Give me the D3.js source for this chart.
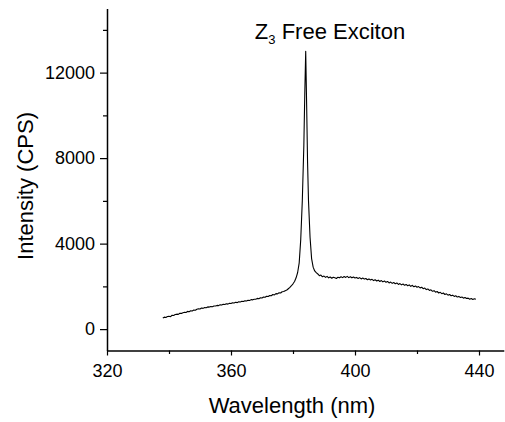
<!DOCTYPE html>
<!-- PL spectrum: intensity vs wavelength with the Z3 free exciton peak -->
<html>
<head>
<meta charset="utf-8">
<style>
  body { margin: 0; background: #fff; }
  text { font-family: "Liberation Sans", Arial, sans-serif; fill: #000; }
</style>
</head>
<body>
<div id="graph_div"></div>

<script src="https://d3js.org/d3.v7.min.js"></script>

<script>

// data (left wing, peak, right wing)
let wavelengths = [338, 338.5, 339, 339.5, 340, 340.5, 341, 341.5, 342, 342.5, 343, 343.5, 344, 344.5, 345, 345.5,
  346, 346.5, 347, 347.5, 348, 348.5, 349, 349.5, 350, 350.5, 351, 351.5, 352, 352.5, 353, 353.5,
  354, 354.5, 355, 355.5, 356, 356.5, 357, 357.5, 358, 358.5, 359, 359.5, 360, 360.5, 361, 361.5,
  362, 362.5, 363, 363.5, 364, 364.5, 365, 365.5, 366, 366.5, 367, 367.5, 368, 368.5, 369, 369.5,
  370, 370.5, 371, 371.5, 372, 372.5, 373, 373.5, 374, 374.5, 375, 375.5, 376, 376.5, 377, 377.5,
  378, 378.5, 379, 379.5, 380, 380.5, 381, 381.5, 382, 382.5, 383, 383.5, 383.8, 384.1, 384.4, 384.7,
  385, 385.5, 386, 386.5, 387, 387.5, 388, 388.5, 389, 389.5, 390, 390.5, 391, 391.5, 392, 392.5,
  393, 393.5, 394, 394.5, 395, 395.5, 396, 396.5, 397, 397.5, 398, 398.5, 399, 399.5, 400, 400.5,
  401, 401.5, 402, 402.5, 403, 403.5, 404, 404.5, 405, 405.5, 406, 406.5, 407, 407.5, 408, 408.5,
  409, 409.5, 410, 410.5, 411, 411.5, 412, 412.5, 413, 413.5, 414, 414.5, 415, 415.5, 416, 416.5,
  417, 417.5, 418, 418.5, 419, 419.5, 420, 420.5, 421, 421.5, 422, 422.5, 423, 423.5, 424, 424.5,
  425, 425.5, 426, 426.5, 427, 427.5, 428, 428.5, 429, 429.5, 430, 430.5, 431, 431.5, 432, 432.5,
  433, 433.5, 434, 434.5, 435, 435.5, 436, 436.5, 437, 437.5, 438, 438.5, 439];
let intensities = [520, 560, 545, 590, 600, 580, 650, 640, 680, 700, 690, 745, 735, 770, 790, 775,
  830, 815, 860, 850, 895, 880, 930, 950, 940, 985, 970, 1010, 1000, 1040, 1030, 1060,
  1045, 1085, 1080, 1110, 1100, 1140, 1125, 1160, 1150, 1185, 1170, 1210, 1195, 1230, 1225, 1255,
  1240, 1280, 1270, 1300, 1290, 1330, 1315, 1350, 1340, 1380, 1370, 1400, 1395, 1440, 1425, 1470,
  1455, 1500, 1490, 1540, 1525, 1575, 1560, 1620, 1600, 1660, 1650, 1700, 1690, 1750, 1760, 1800,
  1830, 1890, 1950, 2030, 2120, 2230, 2400, 2650, 3100, 4200, 6000, 8600, 11000, 13000, 10500, 7800,
  6000, 4300, 3300, 2900, 2720, 2640, 2580, 2500, 2530, 2450, 2480, 2420, 2470, 2400, 2440, 2380,
  2430, 2400, 2370, 2430, 2400, 2450, 2410, 2460, 2420, 2470, 2410, 2450, 2400, 2440, 2390, 2420,
  2370, 2410, 2350, 2390, 2340, 2370, 2310, 2350, 2300, 2330, 2270, 2310, 2250, 2290, 2230, 2270,
  2210, 2250, 2190, 2230, 2160, 2200, 2140, 2180, 2120, 2160, 2090, 2130, 2070, 2110, 2050, 2090,
  2030, 2070, 2000, 2050, 1980, 2020, 1960, 1990, 1930, 1960, 1890, 1920, 1850, 1880, 1810, 1840,
  1770, 1800, 1730, 1760, 1690, 1720, 1660, 1690, 1620, 1650, 1590, 1620, 1560, 1590, 1530, 1560,
  1500, 1530, 1480, 1500, 1450, 1480, 1430, 1450, 1400, 1430, 1390, 1420, 1400];

let x_major_ticks = [320, 360, 400, 440],
    x_minor_ticks = [340, 380, 420],
    y_major_ticks = [0, 4000, 8000, 12000],
    y_minor_ticks = [2000, 6000, 10000, 14000];

let x_title = "Wavelength (nm)",
    y_title = "Intensity (CPS)";

let container_width = 505,
    container_height = 422;

let spectrum = wavelengths.map(function(w, i){ return {wl: w, cps: intensities[i]}; });

let graph_obj = d3.select("#graph_div")
  .append("svg")
    .attr("width", container_width)
    .attr("height", container_height);

let x = d3.scaleLinear()
  .domain([320, 448])
  .range([107, 503.8]);

let y = d3.scaleLinear()
  .domain([-1000, 15000])
  .range([350.5, 8.5]);

// x axis
graph_obj.append("g")
  .attr("transform", "translate(0," + y(-1000) + ")")
  .call(d3.axisBottom(x).tickValues(x_major_ticks).tickSize(5).tickSizeOuter(0).tickPadding(9)
    .tickFormat(d3.format("d")));
graph_obj.append("g")
  .attr("transform", "translate(0," + y(-1000) + ")")
  .call(d3.axisBottom(x).tickValues(x_minor_ticks).tickSize(3.5).tickSizeOuter(0).tickFormat(""))
  .select(".domain").remove();

// y axis
graph_obj.append("g")
  .attr("transform", "translate(" + x(320) + ",0)")
  .call(d3.axisLeft(y).tickValues(y_major_ticks).tickSize(7).tickSizeOuter(0).tickPadding(5)
    .tickFormat(d3.format("d")));
graph_obj.append("g")
  .attr("transform", "translate(" + x(320) + ",0)")
  .call(d3.axisLeft(y).tickValues(y_minor_ticks).tickSize(4).tickSizeOuter(0).tickFormat(""))
  .select(".domain").remove();

graph_obj.selectAll(".domain").attr("stroke", "#000").attr("stroke-width", 1.5);
graph_obj.selectAll(".tick line").attr("stroke", "#000").attr("stroke-width", 1.2);
graph_obj.selectAll(".tick text")
  .attr("font-size", 18)
  .attr("font-family", "Liberation Sans, Arial, sans-serif")
  .attr("fill", "#000");

// spectrum line
graph_obj.append("path")
  .datum(spectrum)
  .attr("fill", "none")
  .attr("stroke", "#000")
  .attr("stroke-width", 1.1)
  .attr("stroke-linejoin", "round")
  .attr("d", d3.line()
    .x(function(d){ return x(d.wl); })
    .y(function(d){ return y(d.cps); }));

// axis titles
graph_obj.append("text")
  .attr("x", 292)
  .attr("y", 413)
  .attr("text-anchor", "middle")
  .attr("font-size", 22)
  .text(x_title);

graph_obj.append("text")
  .attr("transform", "translate(33,186) rotate(-90)")
  .attr("text-anchor", "middle")
  .attr("font-size", 22)
  .text(y_title);

// peak label
let label = graph_obj.append("text")
  .attr("x", x(367.7))
  .attr("y", y(13550))
  .attr("font-size", 22);
label.append("tspan").text("Z");
label.append("tspan").attr("font-size", 13).attr("dy", 5).text("3");
label.append("tspan").attr("dy", -5).text(" Free Exciton");

</script>
</body>
</html>
